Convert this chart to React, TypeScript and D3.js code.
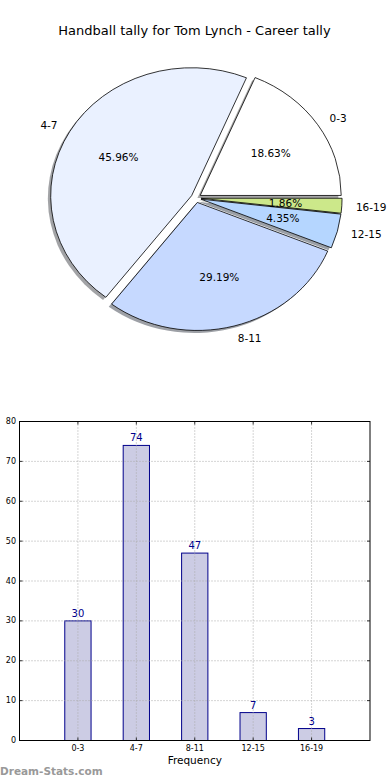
import React from "react";
import * as d3 from "d3";

const categories = ["0-3", "4-7", "8-11", "12-15", "16-19"];
const counts = [30, 74, 47, 7, 3];
const pieColors = ["#ffffff", "#eaf1ff", "#c6d9ff", "#b5d6ff", "#cce88a"];
const yTicks = [0, 10, 20, 30, 40, 50, 60, 70, 80];
const title = "Handball tally for Tom Lynch - Career tally";
const xLabel = "Frequency";
const watermark = "Dream-Stats.com";

const W = 390;
const H = 780;
const FONT = "DejaVu Sans, sans-serif";

function shade(c: string, f: number) {
  const col = d3.rgb(c);
  return d3.rgb(col.r * f, col.g * f, col.b * f).formatHex();
}

export default function App() {
  // ---- Pie ----
  const cx = 196;
  const cy = 198;
  const rx = 141;
  const ry = 128;
  const explode = 0.036;
  const total = d3.sum(counts);
  const pieGen = d3.pie<number>().sort(null).value((d) => d);
  const arcsData = pieGen(counts);
  const arcGen = d3.arc<any>().innerRadius(0).outerRadius(1);

  const wedges = arcsData.map((a, i) => {
    const phiS = a.startAngle;
    const phiE = a.endAngle;
    const mid = (phiS + phiE) / 2;
    const ox = explode * rx * Math.cos(mid);
    const oy = -explode * ry * Math.sin(mid);
    const path = arcGen({ startAngle: Math.PI / 2 - phiS, endAngle: Math.PI / 2 - phiE }) as string;
    const wx = cx + ox;
    const wy = cy + oy;
    const lx = wx + 1.1 * rx * Math.cos(mid);
    const ly = wy - 1.1 * ry * Math.sin(mid);
    const px = wx + 0.6 * rx * Math.cos(mid);
    const py = wy - 0.6 * ry * Math.sin(mid);
    return {
      i,
      path,
      wx,
      wy,
      lx,
      ly,
      px,
      py,
      anchor: Math.cos(mid) >= 0 ? "start" : "end",
      pct: ((counts[i] / total) * 100).toFixed(2) + "%",
    };
  });

  // ---- Bars ----
  const left = 19.5;
  const right = 370;
  const top = 421.5;
  const bottom = 740.5;
  const x = d3.scaleLinear().domain([-1, categories.length]).range([left, right]);
  const y = d3.scaleLinear().domain([0, 80]).range([bottom, top]);
  const barW = x(0.45) - x(0);

  return (
    <svg width={W} height={H} style={{ position: "absolute", left: 0, top: 0, background: "#fff" }}>
      <rect x={0} y={0} width={W} height={H} fill="#fff" />
      <text x={194.5} y={30} textAnchor="middle" dominantBaseline="central" fontFamily={FONT} fontSize={13} fill="#000">
        {title}
      </text>

      {/* shadows */}
      {wedges.map((w) => (
        <path
          key={"s" + w.i}
          d={w.path}
          transform={`translate(${w.wx - 0.02 * rx},${w.wy + 0.02 * ry}) scale(${rx},${ry})`}
          fill={shade(pieColors[w.i], 0.3)}
          fillOpacity={0.5}
          stroke="none"
        />
      ))}
      {/* wedges */}
      {wedges.map((w) => (
        <path
          key={"w" + w.i}
          d={w.path}
          transform={`translate(${w.wx},${w.wy}) scale(${rx},${ry})`}
          fill={pieColors[w.i]}
          stroke="#000"
          strokeWidth={0.8}
          vectorEffect="non-scaling-stroke"
        />
      ))}
      {wedges.map((w) => (
        <text
          key={"l" + w.i}
          x={w.lx}
          y={w.ly}
          textAnchor={w.anchor}
          dominantBaseline="central"
          fontFamily={FONT}
          fontSize={10.5}
          fill="#000"
        >
          {categories[w.i]}
        </text>
      ))}
      {wedges.map((w) => (
        <text
          key={"p" + w.i}
          x={w.px}
          y={w.py}
          textAnchor="middle"
          dominantBaseline="central"
          fontFamily={FONT}
          fontSize={10.5}
          fill="#000"
        >
          {w.pct}
        </text>
      ))}

      {/* bar chart */}
      {counts.map((v, i) => (
        <rect
          key={"b" + i}
          x={x(i) - barW / 2}
          y={y(v)}
          width={barW}
          height={y(0) - y(v)}
          fill="#ccccE4"
          stroke="#00008b"
          strokeWidth={1}
        />
      ))}
      {/* grid */}
      {yTicks.map((t) => (
        <line
          key={"gy" + t}
          x1={left}
          x2={right}
          y1={y(t)}
          y2={y(t)}
          stroke="#aaaaaa"
          strokeWidth={1}
          strokeDasharray="1,2"
        />
      ))}
      {categories.map((c, i) => (
        <line
          key={"gx" + c}
          x1={x(i)}
          x2={x(i)}
          y1={top}
          y2={bottom}
          stroke="#aaaaaa"
          strokeWidth={1}
          strokeDasharray="1,2"
        />
      ))}
      {counts.map((v, i) => (
        <text
          key={"v" + i}
          x={x(i)}
          y={y(v) - 4}
          textAnchor="middle"
          fontFamily={FONT}
          fontSize={10}
          fill="#00008b"
        >
          {v}
        </text>
      ))}
      <rect x={left} y={top} width={right - left} height={bottom - top} fill="none" stroke="#000" strokeWidth={1} />
      {yTicks.map((t) => (
        <g key={"ty" + t}>
          <line x1={left} x2={left + 3} y1={y(t)} y2={y(t)} stroke="#000" strokeWidth={0.8} />
          <line x1={right - 3} x2={right} y1={y(t)} y2={y(t)} stroke="#000" strokeWidth={0.8} />
          <text x={16} y={y(t)} textAnchor="end" dominantBaseline="central" fontFamily={FONT} fontSize={8} fill="#000">
            {t}
          </text>
        </g>
      ))}
      {categories.map((c, i) => (
        <g key={"tx" + c}>
          <line x1={x(i)} x2={x(i)} y1={bottom} y2={bottom - 3} stroke="#000" strokeWidth={0.8} />
          <line x1={x(i)} x2={x(i)} y1={top} y2={top + 3} stroke="#000" strokeWidth={0.8} />
          <text x={x(i)} y={748} textAnchor="middle" dominantBaseline="central" fontFamily={FONT} fontSize={8} fill="#000">
            {c}
          </text>
        </g>
      ))}
      <text x={(left + right) / 2} y={760} textAnchor="middle" dominantBaseline="central" fontFamily={FONT} fontSize={10.5} fill="#000">
        {xLabel}
      </text>
      <text x={0} y={775} fontFamily={FONT} fontSize={10.5} fontWeight="bold" fill="#999999">
        {watermark}
      </text>
    </svg>
  );
}
